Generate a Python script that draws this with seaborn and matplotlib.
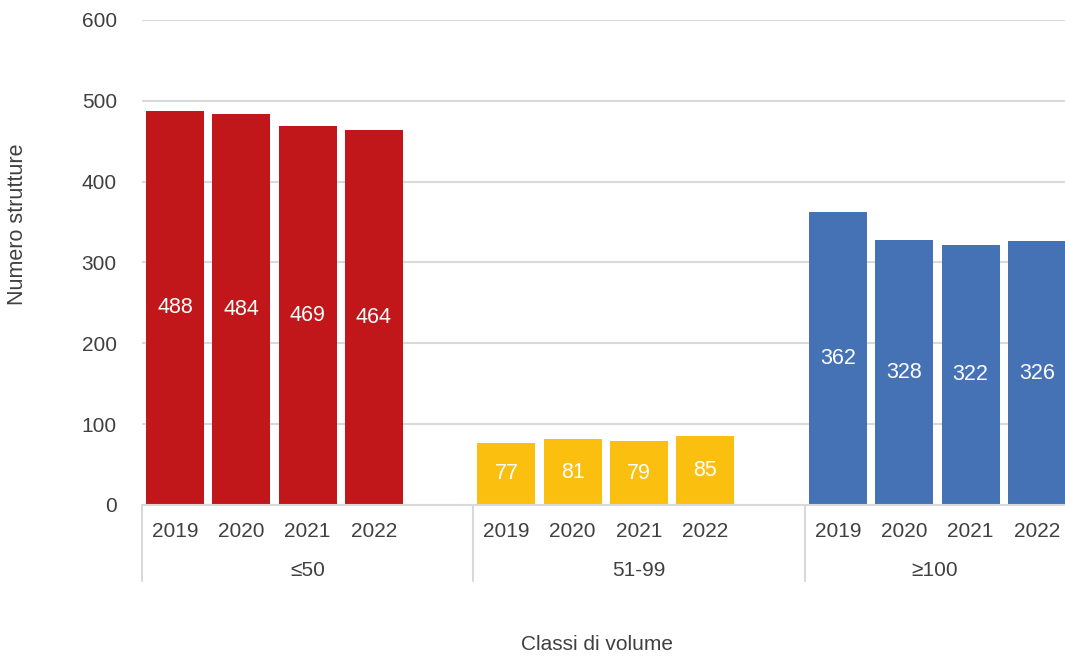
import matplotlib
matplotlib.use("Agg")
import matplotlib.pyplot as plt
import matplotlib.transforms as mtransforms
import seaborn as sns
import pandas as pd

groups = ["≤50", "51-99", "≥100"]
years = ["2019", "2020", "2021", "2022"]
values_le50 = [488, 484, 469, 464]
values_51_99 = [77, 81, 79, 85]
values_ge100 = [362, 328, 322, 326]
colors = ["#C1161A", "#FBBF10", "#4571B5"]
y_ticks = [0, 100, 200, 300, 400, 500, 600]

sns.set_theme(style="white")
plt.rcParams["font.family"] = ["Liberation Sans", "DejaVu Sans"]

rows = []
for g, vals in zip(groups, [values_le50, values_51_99, values_ge100]):
    for y, v in zip(years, vals):
        rows.append({"key": f"{g}|{y}", "group": g, "year": y, "value": v})
df = pd.DataFrame(rows)

order = []
for i, g in enumerate(groups):
    order += [f"{g}|{y}" for y in years]
    if i < len(groups) - 1:
        order.append(f"gap{i}")

fig = plt.figure(figsize=(10.65, 6.57), dpi=100)
ax = fig.add_axes([141.8 / 1065, 0.2314, 928.2 / 1065, 0.7382])

sns.barplot(data=df, x="key", y="value", hue="group", order=order,
            hue_order=groups, palette=colors, dodge=False, width=0.875,
            legend=False, ax=ax, saturation=1, linewidth=0)

for c in ax.containers:
    ax.bar_label(c, label_type="center", color="white", fontsize=15.5)

ax.set_ylim(0, 600)
ax.set_yticks(y_ticks)
ax.set_xlim(-0.5, len(order) - 0.5)
ax.yaxis.grid(True, color="#d9d9d9", linewidth=1.5)
ax.set_axisbelow(True)
for s in ["left", "right", "top"]:
    ax.spines[s].set_visible(False)
ax.spines["bottom"].set_color("#d9d9d9")
ax.spines["bottom"].set_linewidth(1.5)

ticklabels = [k.split("|")[1] if "|" in k else "" for k in order]
ax.set_xticks(range(len(order)))
ax.set_xticklabels(ticklabels)
ax.tick_params(axis="x", length=0, pad=12, labelsize=15, labelcolor="#404040")
ax.tick_params(axis="y", length=0, pad=18, labelsize=15, labelcolor="#404040")

trans = mtransforms.blended_transform_factory(ax.transData, ax.transAxes)
pos = 0
for i, g in enumerate(groups):
    start = pos - 0.5
    end = min(pos + len(years) + 0.5, len(order) - 0.5)
    if i == len(groups) - 1:
        end = (1065 - 141.8) / 928.2 * len(order) - 0.5
    center = (start + end) / 2
    ax.text(center, -0.135, g, transform=trans, ha="center", va="center",
            fontsize=15, color="#404040")
    ax.plot([start, start], [0, -0.156], transform=trans,
            color="#d9d9d9", linewidth=1.5, clip_on=False)
    pos += len(years) + 1

ax.set_xlabel("")
ax.set_ylabel("")
fig.text(0.561, 1 - 645 / 657, "Classi di volume", ha="center", va="center",
         fontsize=15, color="#404040")
fig.text(18 / 1065, 1 - 224 / 657, "Numero strutture", ha="center", va="center",
         rotation=90, fontsize=15.5, color="#404040")

fig.savefig("out.png", dpi=100)
